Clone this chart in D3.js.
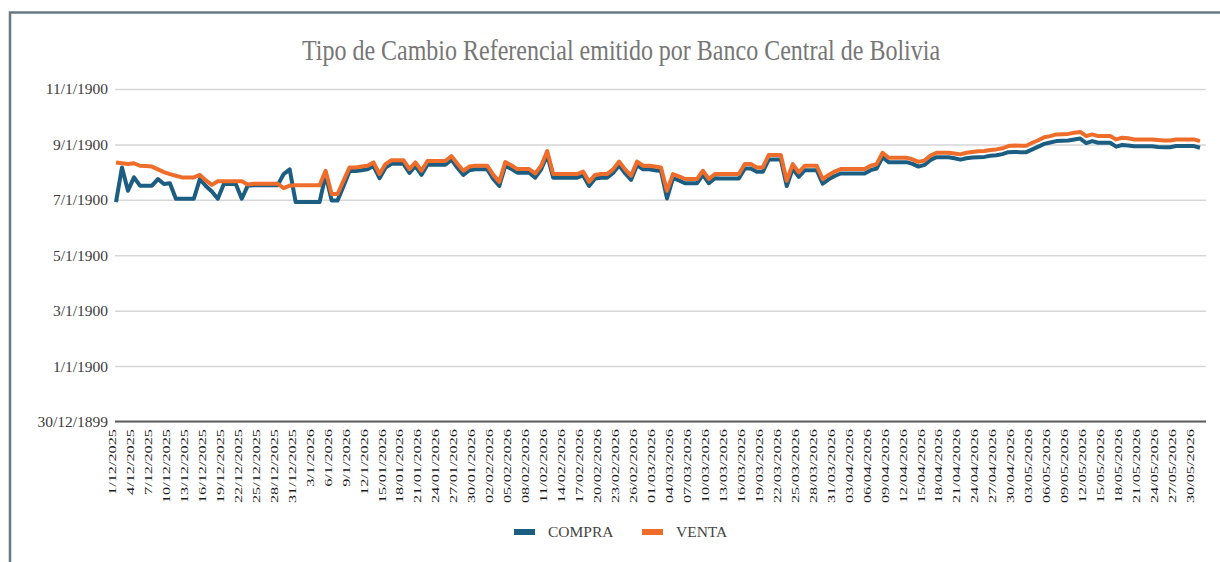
<!DOCTYPE html>
<html>
<head>
<meta charset="utf-8">
<script src="https://cdn.jsdelivr.net/npm/d3@7"></script>
<style>
  body { margin: 0; background: #fff; }
  svg { display: block; font-family: "Liberation Serif", "Times New Roman", serif; }
</style>
</head>
<body>
<script>
// tipo de cambio diario, 1/12/2025 .. 31/05/2026 (one value per day)
var compra = [
  7.92, 9.17, 8.33, 8.81, 8.51, 8.51, 8.51, 8.75, 8.57, 8.60,
  8.04, 8.04, 8.04, 8.04, 8.75, 8.50, 8.30, 8.04, 8.57, 8.57,
  8.57, 8.04, 8.51, 8.53, 8.53, 8.53, 8.53, 8.53, 8.93, 9.10,
  7.92, 7.92, 7.92, 7.92, 7.92, 8.90, 7.98, 7.98, 8.50, 9.04,
  9.04, 9.07, 9.10, 9.22, 8.78, 9.16, 9.30, 9.30, 9.30, 8.97,
  9.22, 8.90, 9.27, 9.27, 9.27, 9.27, 9.45, 9.16, 8.90, 9.07,
  9.10, 9.10, 9.10, 8.75, 8.50, 9.23, 9.12, 8.98, 8.98, 8.98,
  8.80, 9.10, 9.62, 8.80, 8.80, 8.80, 8.80, 8.80, 8.88, 8.50,
  8.77, 8.80, 8.80, 8.97, 9.25, 8.96, 8.72, 9.25, 9.10, 9.10,
  9.07, 9.04, 8.05, 8.78, 8.70, 8.60, 8.60, 8.60, 8.90, 8.60,
  8.78, 8.77, 8.77, 8.77, 8.77, 9.13, 9.13, 9.01, 9.01, 9.46,
  9.46, 9.46, 8.50, 9.13, 8.83, 9.07, 9.07, 9.07, 8.58, 8.74,
  8.86, 8.95, 8.95, 8.95, 8.95, 8.95, 9.07, 9.13, 9.54, 9.36,
  9.36, 9.36, 9.36, 9.30, 9.20, 9.26, 9.44, 9.54, 9.54, 9.54,
  9.50, 9.45, 9.50, 9.53, 9.54, 9.55, 9.59, 9.61, 9.65, 9.72,
  9.73, 9.72, 9.72, 9.82, 9.92, 10.02, 10.07, 10.12, 10.13, 10.14,
  10.18, 10.21, 10.05, 10.12, 10.06, 10.06, 10.06, 9.92, 9.98, 9.96,
  9.93, 9.93, 9.93, 9.93, 9.91, 9.90, 9.90, 9.94, 9.94, 9.94,
  9.94, 9.88
];

var venta = [
  9.35, 9.32, 9.29, 9.32, 9.23, 9.22, 9.20, 9.10, 9.00, 8.93,
  8.87, 8.81, 8.81, 8.81, 8.90, 8.70, 8.54, 8.67, 8.67, 8.67,
  8.67, 8.67, 8.55, 8.58, 8.58, 8.58, 8.58, 8.58, 8.42, 8.51,
  8.53, 8.53, 8.53, 8.53, 8.53, 9.05, 8.21, 8.21, 8.70, 9.17,
  9.17, 9.20, 9.23, 9.35, 8.93, 9.29, 9.43, 9.43, 9.43, 9.11,
  9.35, 9.05, 9.40, 9.40, 9.40, 9.40, 9.58, 9.30, 9.05, 9.20,
  9.23, 9.23, 9.23, 8.90, 8.65, 9.36, 9.25, 9.11, 9.11, 9.11,
  8.95, 9.23, 9.76, 8.93, 8.93, 8.93, 8.93, 8.93, 9.02, 8.65,
  8.90, 8.93, 8.93, 9.10, 9.38, 9.10, 8.87, 9.38, 9.23, 9.23,
  9.20, 9.17, 8.33, 8.93, 8.85, 8.75, 8.75, 8.75, 9.05, 8.75,
  8.93, 8.93, 8.93, 8.93, 8.93, 9.29, 9.29, 9.17, 9.17, 9.62,
  9.62, 9.62, 8.69, 9.29, 8.99, 9.23, 9.23, 9.23, 8.75, 8.90,
  9.02, 9.11, 9.11, 9.11, 9.11, 9.11, 9.23, 9.29, 9.70, 9.52,
  9.52, 9.52, 9.52, 9.46, 9.37, 9.42, 9.60, 9.70, 9.70, 9.70,
  9.67, 9.64, 9.70, 9.73, 9.75, 9.76, 9.80, 9.82, 9.86, 9.94,
  9.96, 9.95, 9.95, 10.06, 10.15, 10.26, 10.30, 10.36, 10.37, 10.38,
  10.42, 10.45, 10.30, 10.36, 10.30, 10.30, 10.30, 10.18, 10.24, 10.22,
  10.18, 10.18, 10.18, 10.18, 10.16, 10.14, 10.14, 10.18, 10.18, 10.18,
  10.18, 10.12
];

// one label every 3 days
var xLabels = [
  "1/12/2025", "4/12/2025", "7/12/2025", "10/12/2025", "13/12/2025", "16/12/2025",
  "19/12/2025", "22/12/2025", "25/12/2025", "28/12/2025", "31/12/2025",
  "3/1/2026", "6/1/2026", "9/1/2026", "12/1/2026",
  "15/01/2026", "18/01/2026", "21/01/2026", "24/01/2026", "27/01/2026", "30/01/2026",
  "02/02/2026", "05/02/2026", "08/02/2026", "11/02/2026", "14/02/2026", "17/02/2026",
  "20/02/2026", "23/02/2026", "26/02/2026",
  "01/03/2026", "04/03/2026", "07/03/2026", "10/03/2026", "13/03/2026", "16/03/2026",
  "19/03/2026", "22/03/2026", "25/03/2026", "28/03/2026", "31/03/2026",
  "03/04/2026", "06/04/2026", "09/04/2026", "12/04/2026", "15/04/2026", "18/04/2026",
  "21/04/2026", "24/04/2026", "27/04/2026", "30/04/2026",
  "03/05/2026", "06/05/2026", "09/05/2026", "12/05/2026", "15/05/2026", "18/05/2026",
  "21/05/2026", "24/05/2026", "27/05/2026", "30/05/2026"
];

// y axis shown as spreadsheet dates (serial 0 = 30/12/1899)
var yTicks = [0, 2, 4, 6, 8, 10, 12];
var yLabels = ["30/12/1899", "1/1/1900", "3/1/1900", "5/1/1900", "7/1/1900", "9/1/1900", "11/1/1900"];

var series = [
  { name: "COMPRA", values: compra, color: "#1c5d82" },
  { name: "VENTA", values: venta, color: "#ef6d2b" }
];

var W = 1220, H = 562;
var plotL = 115, plotR = 1206, plotT = 89, plotB = 421.5;

var svg = d3.select("body").append("svg")
  .attr("width", W)
  .attr("height", H);

svg.append("rect")
  .attr("width", W).attr("height", H)
  .attr("fill", "#fff");

// frame of the screenshot (only top + left visible)
svg.append("path")
  .attr("d", "M10," + (H + 5) + "V12.5H" + (W + 5))
  .attr("fill", "none")
  .attr("stroke", "#687885")
  .attr("stroke-width", 2.5);

svg.append("text")
  .attr("transform", "translate(621,60) scale(1,1.2)")
  .attr("text-anchor", "middle")
  .style("font-size", "24px")
  .style("fill", "#767676")
  .text("Tipo de Cambio Referencial emitido por Banco Central de Bolivia");

var x = d3.scalePoint()
  .domain(d3.range(venta.length))
  .range([116, 1200]);

var y = d3.scaleLinear()
  .domain([0, 12])
  .range([plotB, plotT]);

// gridlines + y labels
var yAxis = d3.axisLeft(y)
  .tickValues(yTicks)
  .tickSize(-(plotR - plotL))
  .tickPadding(7)
  .tickFormat((d, i) => yLabels[i]);

var gy = svg.append("g")
  .attr("transform", "translate(" + plotL + ",0)")
  .call(yAxis);
gy.attr("font-family", null);
gy.select(".domain").remove();
gy.selectAll(".tick line")
  .attr("stroke", "#d6d6d6")
  .attr("stroke-width", 1.5);
gy.selectAll(".tick text")
  .style("font-family", "'Liberation Serif', serif")
  .style("font-size", "15.5px")
  .style("fill", "#3c3c3c");

// base line
svg.append("line")
  .attr("x1", plotL).attr("x2", plotR)
  .attr("y1", y(0)).attr("y2", y(0))
  .attr("stroke", "#5f5f5f")
  .attr("stroke-width", 2);

// x labels, rotated
svg.append("g")
  .selectAll("text")
  .data(xLabels)
  .enter()
  .append("text")
  .attr("transform", (d, i) => "translate(" + x(i * 3) + ",429) rotate(-90) scale(1.55,1)")
  .attr("text-anchor", "end")
  .style("font-size", "10.5px")
  .style("fill", "#1a1a1a")
  .text(d => d);

var line = d3.line()
  .x((d, i) => x(i))
  .y(d => y(d));

svg.append("g")
  .selectAll("path")
  .data(series)
  .enter()
  .append("path")
  .attr("d", d => line(d.values))
  .attr("fill", "none")
  .attr("stroke", d => d.color)
  .attr("stroke-width", 4)
  .attr("stroke-linejoin", "round");

// legend
var legendX = [514, 642];
var lg = svg.append("g")
  .selectAll("g")
  .data(series)
  .enter()
  .append("g")
  .attr("transform", (d, i) => "translate(" + legendX[i] + ",529)");

lg.append("rect")
  .attr("width", 21)
  .attr("height", 6)
  .attr("fill", d => d.color);

lg.append("text")
  .attr("x", 34)
  .attr("y", 8)
  .style("font-size", "15.5px")
  .style("fill", "#444")
  .text(d => d.name);
</script>
</body>
</html>
